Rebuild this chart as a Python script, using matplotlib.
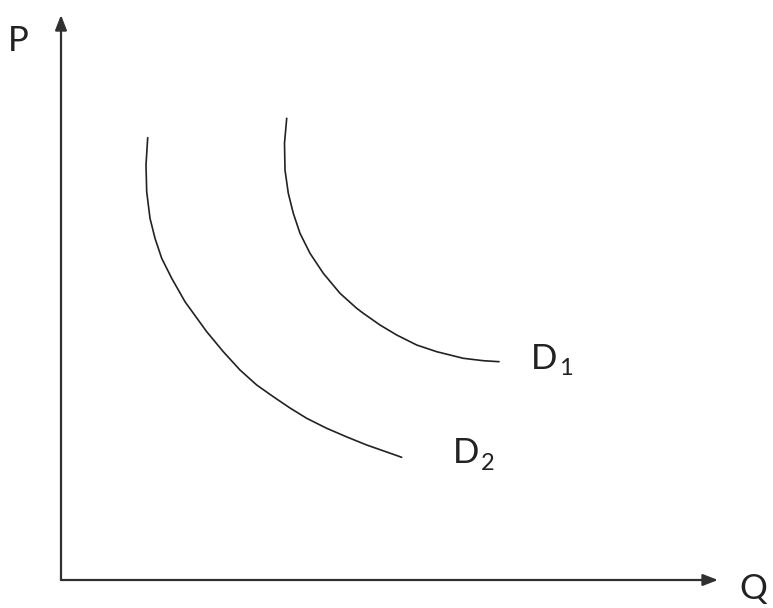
import matplotlib
matplotlib.use("Agg")
import matplotlib.pyplot as plt

plt.rcParams["font.family"] = ["Lato", "DejaVu Sans"]

# curve points (pixel coordinates, y grows downward)
d1_x = [286.7, 284.5, 285.0, 288.3, 293.3, 300.0, 310.0, 323.3, 340.0, 356.7,
        363.3, 380.0, 396.7, 416.7, 436.7, 463.3, 483.3, 499.0]
d1_y = [118.3, 143.3, 170.0, 193.3, 213.3, 233.3, 253.3, 273.3, 293.3, 308.3,
        313.3, 325.0, 335.0, 345.0, 351.7, 358.3, 360.7, 361.7]

d2_x = [147.7, 146.0, 146.7, 150.0, 155.0, 161.7, 171.7, 185.0, 206.7, 223.3,
        240.0, 256.7, 273.3, 290.0, 306.7, 326.7, 346.7, 366.7, 386.7, 401.7]
d2_y = [137.7, 165.0, 191.7, 218.3, 238.3, 258.3, 278.3, 301.7, 331.7, 351.7,
        370.0, 385.0, 396.7, 408.0, 418.3, 428.3, 436.9, 445.0, 452.0, 457.3]

origin = (61, 580)
y_axis_top = 15
x_axis_end = 718

fig = plt.figure(figsize=(7.73, 6.08), dpi=100)
ax = fig.add_axes([0, 0, 1, 1])
ax.set_xlim(0, 773)
ax.set_ylim(608, 0)
ax.axis("off")

arrow = dict(arrowstyle="-|>,head_length=0.9,head_width=0.35", color="#303030",
             lw=1.6, shrinkA=0, shrinkB=0)
ax.annotate("", xy=(origin[0], y_axis_top), xytext=origin, arrowprops=arrow)
ax.annotate("", xy=(x_axis_end, origin[1]), xytext=origin, arrowprops=arrow)

ax.plot(d1_x, d1_y, color="#222222", lw=1.2, solid_capstyle="round",
        solid_joinstyle="round")
ax.plot(d2_x, d2_y, color="#222222", lw=1.2, solid_capstyle="round",
        solid_joinstyle="round")

fs = 25
ax.text(8, 51, "P", fontsize=fs, ha="left", va="baseline", color="#222222")
ax.text(739, 599, "Q", fontsize=fs, ha="left", va="baseline", color="#222222")

ax.text(531, 369, "D", fontsize=fs, ha="left", va="baseline", color="#222222")
ax.text(559, 375, "1", fontsize=17, ha="left", va="baseline", color="#222222")
ax.text(453, 463, "D", fontsize=fs, ha="left", va="baseline", color="#222222")
ax.text(481, 470, "2", fontsize=17, ha="left", va="baseline", color="#222222")

fig.savefig("out.png", dpi=100, facecolor="white")
